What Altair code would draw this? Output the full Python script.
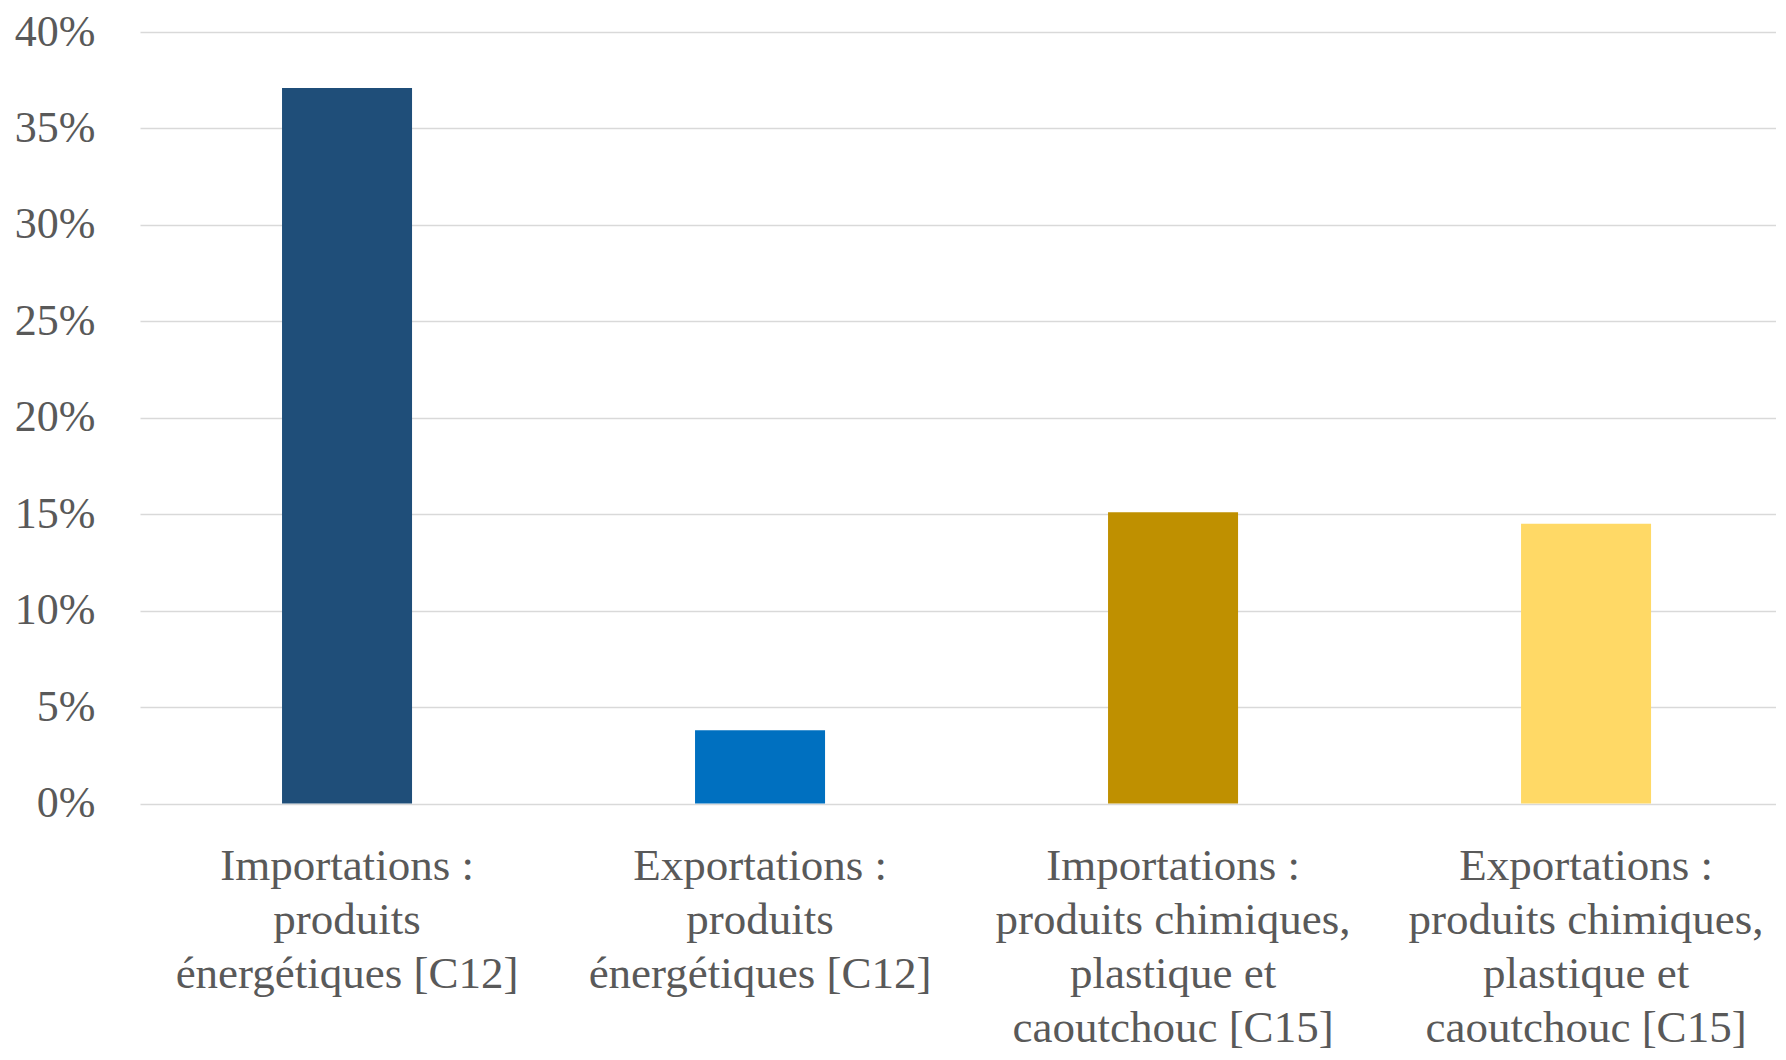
import altair as alt
import pandas as pd

categories = [
    "Importations :|produits|énergétiques [C12]",
    "Exportations :|produits|énergétiques [C12]",
    "Importations :|produits chimiques,|plastique et|caoutchouc [C15]",
    "Exportations :|produits chimiques,|plastique et|caoutchouc [C15]",
]
values = [0.371, 0.038, 0.151, 0.145]
colors = ["#1F4E79", "#0070C0", "#BF9000", "#FFD966"]
y_ticks = [0, 0.05, 0.10, 0.15, 0.20, 0.25, 0.30, 0.35, 0.40]

df = pd.DataFrame({"cat": categories, "val": values})

FONT = "Liberation Serif"
GREY = "#595959"

chart = (
    alt.Chart(df)
    .mark_bar()
    .encode(
        x=alt.X(
            "cat:N",
            sort=categories,
            title=None,
            scale=alt.Scale(paddingInner=0.6852, paddingOuter=0.3232, align=0.532),
            axis=alt.Axis(
                labelExpr="split(datum.label, '|')",
                labelAngle=0,
                labelAlign="center",
                labelBaseline="top",
                labelFont=FONT,
                labelFontSize=45,
                labelColor=GREY,
                labelLineHeight=54,
                labelPadding=40,
                ticks=False,
                domain=False,
                grid=False,
                labelLimit=0,
            ),
        ),
        y=alt.Y(
            "val:Q",
            title=None,
            scale=alt.Scale(domain=[0, 0.4], nice=False),
            axis=alt.Axis(
                values=y_ticks,
                format=".0%",
                labelFont=FONT,
                labelFontSize=44,
                labelColor=GREY,
                labelPadding=45,
                ticks=False,
                domain=False,
                grid=True,
                gridColor="#D9D9D9",
                gridWidth=1.5,
            ),
        ),
        color=alt.Color(
            "cat:N",
            sort=categories,
            scale=alt.Scale(domain=categories, range=colors),
            legend=None,
        ),
    )
    .properties(
        width=1636,
        height=771.5,
        background="white",
        autosize=alt.AutoSizeParams(type="none"),
        padding={"left": 132, "top": 24, "right": 0, "bottom": 248},
    )
    .configure_view(stroke="transparent", strokeWidth=0)
)

chart.save("out.html", embed_options={"renderer": "svg", "actions": False})
